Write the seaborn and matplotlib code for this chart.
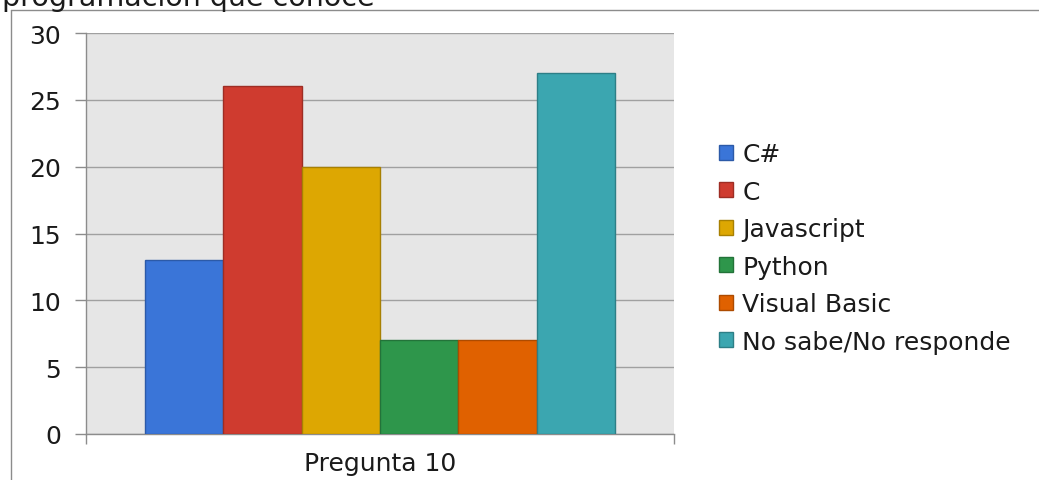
import pandas as pd
import numpy as np
import matplotlib.pyplot as plt
import matplotlib.lines as mlines
import matplotlib.patches as mpatches
import seaborn as sns

# ---------- Data ---------- #

pregunta = "Pregunta 10"
lenguajes = ["C#", "C", "Javascript", "Python", "Visual Basic", "No sabe/No responde"]
valores = [13, 26, 20, 7, 7, 27]
colores = ["#3a75d8", "#cf3b2f", "#dda702", "#2e964b", "#e06100", "#3ba6b0"]
bordes = ["#2c5aa8", "#9e2d24", "#a88002", "#237339", "#ad4b00", "#2d7f87"]
titulo = "programación que conoce"

df = pd.DataFrame({"pregunta": [pregunta] * len(lenguajes),
                   "lenguaje": lenguajes,
                   "valor": valores})

# ---------- Plot ---------- #

sns.set_theme(style="white")
plt.rcParams['font.family'] = ['DejaVu Sans']

fig = plt.figure(figsize=(10.39, 4.81), dpi=100)
ax = fig.add_axes([86 / 1039, 1 - 435 / 481, 588 / 1039, 401 / 481])
ax.set_facecolor("#e6e6e6")

sns.barplot(data=df, x="pregunta", y="valor", hue="lenguaje",
            palette=colores, width=0.8, ax=ax, legend=False,
            saturation=1, linewidth=1)

for patch, borde in zip(ax.patches, bordes):
    patch.set_edgecolor(borde)
    patch.set_zorder(3)

ax.set_xlim(-0.5, 0.5)
ax.set_ylim(0, 30)
ax.set_yticks(np.arange(0, 31, 5))
ax.yaxis.grid(True, color="#a0a0a0", linewidth=1)
ax.set_axisbelow(True)

ax.set_xlabel("")
ax.set_ylabel("")
for side in ["top", "right"]:
    ax.spines[side].set_visible(False)
for side in ["left", "bottom"]:
    ax.spines[side].set_color("#8c8c8c")
    ax.spines[side].set_linewidth(1)

ax.tick_params(axis="y", direction="out", length=8, width=1, color="#8c8c8c",
               labelsize=18, pad=10, left=True, labelcolor="#1a1a1a")
ax.tick_params(axis="x", which="major", length=0, labelsize=18, pad=12,
               labelcolor="#1a1a1a")
ax.set_xticks([-0.5, 0.5], minor=True)
ax.tick_params(axis="x", which="minor", direction="out", length=7, width=1,
               color="#8c8c8c", bottom=True)

# Legend
handles = [mpatches.Patch(facecolor=c, edgecolor=b, label=l)
           for c, b, l in zip(colores, bordes, lenguajes)]
ax.legend(handles=handles, loc="center left", bbox_to_anchor=(1.06, 0.464),
          frameon=False, fontsize=18, handlelength=0.56, handleheight=0.56,
          handletextpad=0.36, labelspacing=0.54, borderaxespad=0,
          labelcolor="#1a1a1a")

# Frame lines and cropped title
fig.add_artist(mlines.Line2D([11 / 1039, 1], [1 - 11 / 481, 1 - 11 / 481],
                             color="#8c8c8c", linewidth=1))
fig.add_artist(mlines.Line2D([11 / 1039, 11 / 1039], [0, 1 - 11 / 481],
                             color="#8c8c8c", linewidth=1))
fig.text(2 / 1039, 1 - 6 / 481, titulo, fontsize=20.5, va="baseline", ha="left",
         color="#1a1a1a")

fig.savefig("out.png", dpi=100)
plt.close()
